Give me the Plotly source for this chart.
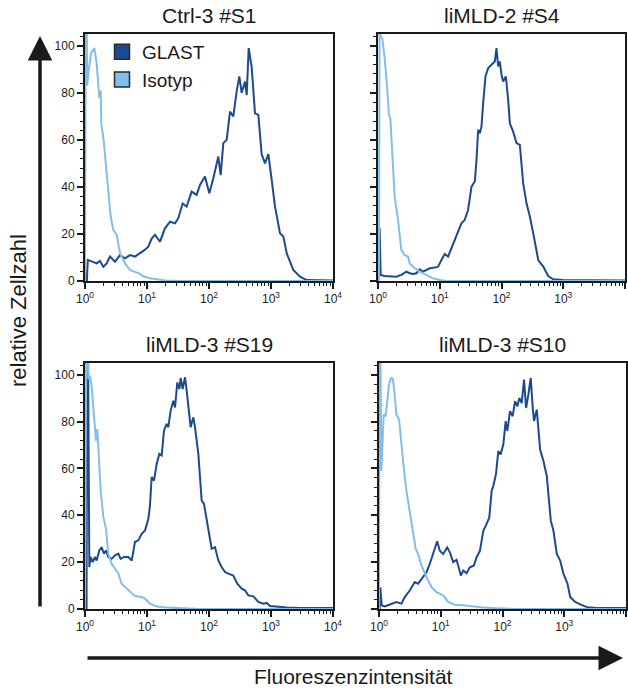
import numpy as np
import plotly.graph_objects as go

# ---------------- data (log10 of fluorescence intensity, relative cell count) ----------------
titles = ["Ctrl-3 #S1", "liMLD-2 #S4", "liMLD-3 #S19", "liMLD-3 #S10"]
series_names = ["GLAST", "Isotyp"]

s1_glast_log = [0.0, 0.03, 0.045, 0.134, 0.188, 0.242, 0.296, 0.349, 0.403, 0.484, 0.565, 0.645, 0.726, 0.806,
                0.887, 0.952, 1.022, 1.075, 1.129, 1.21, 1.29, 1.371, 1.452, 1.505, 1.575, 1.64, 1.72, 1.80,
                1.855, 1.935, 2.005, 2.07, 2.15, 2.188, 2.231, 2.285, 2.339, 2.392, 2.446, 2.489, 2.527,
                2.581, 2.608, 2.64, 2.688, 2.742, 2.796, 2.849, 2.903, 2.957, 3.011, 3.065, 3.145, 3.199,
                3.253, 3.36, 3.468, 3.575, 4.0]
s1_glast_y = [0, 0, 9, 8.2, 7.5, 8.5, 6, 7.5, 10.4, 8.2, 11, 9.6, 11, 10.4,
              11.8, 13, 14.6, 18, 19.6, 16.7, 22.4, 25.2, 24.5, 26.7, 33, 31.6, 38, 36.6,
              40.8, 44.4, 37.3, 43.7, 52.9, 45, 58.6, 60, 72, 70, 80.6, 87, 80,
              84.8, 79, 99, 91, 71.3, 70.6, 54, 50, 54, 43, 31.6, 20.3, 18.9,
              11.8, 4.7, 1.8, 0.4, 0.2]
s1_iso_log = [0.0, 0.015, 0.035, 0.06, 0.1, 0.151, 0.188, 0.215, 0.231, 0.253, 0.263, 0.30, 0.339, 0.376,
              0.414, 0.457, 0.511, 0.565, 0.645, 0.726, 0.806, 0.887, 0.94, 1.048, 1.21, 1.3, 1.5, 4.0]
s1_iso_y = [0, 150, 83, 90, 97, 99, 92.6, 85, 77.7, 81, 67, 60, 48.6, 37.3,
            27.4, 21.7, 19.6, 11.8, 7.5, 4.7, 4, 3, 2, 1.2, 0.5, 0.2, 0, 0]

s4_glast_log = [0.0, 0.016, 0.027, 0.043, 0.108, 0.216, 0.297, 0.378, 0.459, 0.514, 0.568, 0.622, 0.676,
                0.73, 0.784, 0.838, 0.919, 0.973, 1.027, 1.081, 1.135, 1.189, 1.243, 1.297, 1.351, 1.405,
                1.459, 1.514, 1.568, 1.595, 1.622, 1.649, 1.676, 1.703, 1.741, 1.784, 1.838, 1.892, 1.919,
                1.946, 1.973, 2.0, 2.027, 2.07, 2.108, 2.135, 2.189, 2.243, 2.297, 2.351, 2.405, 2.459,
                2.524, 2.595, 2.676, 2.757, 2.838, 3.0, 4.0]
s4_glast_y = [0, 0, 22.4, 2.6, 2.1, 1.8, 1.8, 2.6, 4, 3.3, 3, 3.3, 5,
              4, 4.7, 5.4, 5.7, 6.1, 8.9, 11.5, 10.4, 13.9, 17.4, 20.3, 24.5, 26,
              30.2, 40.1, 42.3, 51.5, 64.3, 62.8, 65.7, 75.6, 87, 90.5, 91.9, 93.3, 99,
              91.2, 93.3, 87.7, 84.8, 87, 77, 67, 63.5, 58.6, 57.9, 41.6, 33, 27.4,
              18.9, 8.9, 6.1, 2.1, 0.7, 0.4, 0.2]
s4_iso_log = [0.0, 0.016, 0.027, 0.043, 0.07, 0.108, 0.146, 0.178, 0.2, 0.232, 0.27, 0.324, 0.378, 0.432,
              0.486, 0.514, 0.595, 0.676, 0.784, 0.892, 1.0, 1.108, 4.0]
s4_iso_y = [0, 0, 130, 104, 103, 94.8, 82.7, 70.6, 69.2, 51.5, 35.9, 26, 13.2, 11,
            10.4, 7.5, 5.4, 4, 2.6, 1.1, 0.4, 0, 0]

s19_glast_log = [0.0, 0.025, 0.04, 0.07, 0.091, 0.124, 0.161, 0.188, 0.231, 0.269, 0.306, 0.339, 0.376, 0.43,
                 0.484, 0.538, 0.575, 0.629, 0.699, 0.753, 0.806, 0.86, 0.914, 0.968, 1.022, 1.048, 1.075,
                 1.113, 1.156, 1.199, 1.237, 1.274, 1.317, 1.344, 1.382, 1.425, 1.452, 1.489, 1.522, 1.543,
                 1.575, 1.613, 1.64, 1.667, 1.704, 1.747, 1.774, 1.828, 1.882, 1.919, 1.962, 2.005, 2.043,
                 2.097, 2.151, 2.204, 2.258, 2.312, 2.392, 2.457, 2.527, 2.581, 2.634, 2.715, 2.796, 2.876,
                 2.93, 2.984, 3.091, 3.253, 3.468, 4.0]
s19_glast_y = [0, 0, 150, 17.9, 22.2, 20, 22.2, 20.7, 25, 26.4, 23.6, 25, 22.2, 21.4,
               22.9, 23.6, 21.4, 22.2, 22.2, 20.7, 28.6, 29.3, 32.1, 33.5, 38.5, 44.2, 56.3,
               54.8, 61.9, 66.2, 65.5, 76.1, 79, 77.6, 84.7, 88.9, 86, 96.7, 93.9, 98.6,
               93.9, 98.9, 93.2, 87.5, 77.6, 81.8, 77.6, 66.2, 46.3, 44.9, 37.8, 32.1, 25.7,
               26.4, 20.7, 17.9, 15.8, 15.1, 14.3, 10.8, 8.7, 8, 5.8, 5.4, 3, 2.3,
               2.6, 1.3, 0.9, 0.6, 0.4, 0.4]
s19_iso_log = [0.0, 0.027, 0.054, 0.081, 0.108, 0.145, 0.177, 0.199, 0.226, 0.253, 0.296, 0.339, 0.376, 0.43,
               0.484, 0.538, 0.591, 0.645, 0.726, 0.806, 0.914, 0.968, 1.048, 1.156, 1.317, 1.586, 1.855, 4.0]
s19_iso_y = [0, 150, 98.2, 99.6, 94.6, 83.2, 71.9, 76.8, 61.9, 50.6, 39.2, 34.2, 23.6, 19.3,
             17.2, 15.1, 10.8, 9.4, 7.2, 5.5, 5.1, 4.4, 2.3, 1.1, 0.6, 0.3, 0, 0]

s10_glast_log = [0.0, 0.011, 0.022, 0.043, 0.092, 0.173, 0.281, 0.363, 0.417, 0.498, 0.579, 0.633, 0.687,
                 0.769, 0.823, 0.877, 0.942, 0.985, 1.039, 1.104, 1.148, 1.202, 1.256, 1.326, 1.364, 1.418,
                 1.472, 1.537, 1.581, 1.635, 1.689, 1.743, 1.786, 1.824, 1.851, 1.894, 1.932, 1.97, 2.014,
                 2.051, 2.078, 2.122, 2.165, 2.203, 2.241, 2.273, 2.311, 2.349, 2.382, 2.419, 2.457, 2.49,
                 2.511, 2.555, 2.609, 2.663, 2.717, 2.782, 2.825, 2.879, 2.934, 2.988, 3.053, 3.096, 3.177,
                 3.258, 3.367, 3.529, 4.0]
s10_glast_y = [0, 0, 9.3, 1.6, 1.1, 1.8, 3, 2.3, 5.1, 7.9, 11.5, 10.8, 12.9,
               15.7, 19.3, 23.5, 28.9, 24.9, 23.5, 26.3, 24.2, 20, 21, 14.3, 16.4, 15.3,
               17.8, 18.6, 22.1, 24.9, 33.4, 36.3, 39.1, 50.4, 52.5, 57.5, 67.4, 66, 70.3,
               80.2, 76, 84.4, 82.3, 88.7, 86.5, 90.1, 87.9, 97.9, 85.8, 91.5, 98.6, 85.8,
               80.2, 85.1, 68.1, 63.2, 56.8, 37.7, 33.4, 23.5, 20.7, 15, 10.8, 5.1, 3,
               2, 0.8, 0.4, 0.4]
s10_iso_log = [0.0, 0.011, 0.038, 0.076, 0.108, 0.13, 0.162, 0.2, 0.227, 0.254, 0.281, 0.325, 0.363, 0.401,
               0.444, 0.498, 0.541, 0.595, 0.633, 0.687, 0.769, 0.85, 0.931, 1.039, 1.12, 1.229, 1.364,
               1.526, 1.689, 1.905, 2.176, 4.0]
s10_iso_y = [0, 150, 58.9, 83, 82.3, 87.2, 95.8, 98.9, 97.9, 91.5, 83, 80.9, 68.8, 60.3,
             50.4, 41.9, 34.8, 25.6, 23.5, 18.6, 13.6, 9.3, 7.2, 5.8, 3, 1.8, 1.6,
             1.1, 0.6, 0.3, 0, 0]

panels = [
    (s1_glast_log, s1_glast_y, s1_iso_log, s1_iso_y),
    (s4_glast_log, s4_glast_y, s4_iso_log, s4_iso_y),
    (s19_glast_log, s19_glast_y, s19_iso_log, s19_iso_y),
    (s10_glast_log, s10_glast_y, s10_iso_log, s10_iso_y),
]

x_tickvals = [1, 10, 100, 1000, 10000]
x_ticktext = ["10<sup>0</sup>", "10<sup>1</sup>", "10<sup>2</sup>", "10<sup>3</sup>", "10<sup>4</sup>"]
y_tickvals = [0, 20, 40, 60, 80, 100]

# ---------------- styling ----------------
W, H = 628, 688
DARK = "#1d4a8e"
LIGHT = "#84bde9"
INK = "#1a1a1a"
FONT = "Liberation Sans, Arial, sans-serif"

# panel pixel boxes (left, right, top, bottom)
boxes = [(85, 333, 34, 281), (378, 625, 34, 281), (85, 333, 363, 609), (379, 626, 363, 609)]

fig = go.Figure()
layout = dict(
    width=W, height=H, margin=dict(l=0, r=0, t=0, b=0, autoexpand=False),
    paper_bgcolor="white", plot_bgcolor="white",
    font=dict(family=FONT, color=INK),
    showlegend=True,
    legend=dict(x=102 / W, y=1 - 33 / H, xanchor="left", yanchor="top",
                font=dict(size=19, family=FONT, color=INK),
                bgcolor="rgba(0,0,0,0)", tracegroupgap=0, itemwidth=30),
)

minor_x = [k * 10 ** d for d in range(4) for k in range(2, 10)]
annotations = []
for i, (gl, gy, il, iy) in enumerate(panels):
    ax_id = "" if i == 0 else str(i + 1)
    l, r, t, b = boxes[i]
    xa = dict(
        domain=[l / W, r / W], type="log", range=[0, 4], automargin=False,
        showline=True, linewidth=2, linecolor=INK, mirror=True,
        ticks="outside", ticklen=6, tickwidth=1.5, tickcolor=INK,
        tickvals=x_tickvals, ticktext=x_ticktext,
        tickfont=dict(size=12, family=FONT, color=INK),
        showgrid=False, zeroline=False, anchor="y" + ax_id,
        minor=dict(ticks="outside", ticklen=3, tickwidth=1, tickcolor=INK, tickvals=minor_x, showgrid=False),
    )
    ya = dict(
        domain=[1 - b / H, 1 - t / H], range=[0, 105], automargin=False,
        showline=True, linewidth=2, linecolor=INK, mirror=True,
        ticks="outside", ticklen=6, tickwidth=1.5, tickcolor=INK,
        tickvals=y_tickvals, showticklabels=(i % 2 == 0),
        tickfont=dict(size=12, family=FONT, color=INK),
        showgrid=False, zeroline=False, anchor="x" + ax_id,
        minor=dict(ticks="outside", ticklen=3, tickwidth=1, tickcolor=INK, dtick=4, showgrid=False),
    )
    layout["xaxis" + ax_id] = xa
    layout["yaxis" + ax_id] = ya

    fig.add_trace(go.Scatter(x=10 ** np.array(gl), y=gy, mode="lines",
                             line=dict(color=DARK, width=2), showlegend=False,
                             xaxis="x" + ax_id, yaxis="y" + ax_id))
    fig.add_trace(go.Scatter(x=10 ** np.array(il), y=iy, mode="lines",
                             line=dict(color=LIGHT, width=2), showlegend=False,
                             xaxis="x" + ax_id, yaxis="y" + ax_id))

    annotations.append(dict(text=titles[i], xref="paper", yref="paper",
                            x=(l + r) / 2 / W, y=1 - (t - 5) / H, xanchor="center", yanchor="bottom",
                            showarrow=False, font=dict(size=21, family=FONT, color=INK)))

# legend entries (square swatches)
for name, col in zip(series_names, [DARK, LIGHT]):
    fig.add_trace(go.Scatter(x=[None], y=[None], mode="markers", name=name,
                             marker=dict(symbol="square", size=15, color=col,
                                         line=dict(color="#2a2a2a", width=1.5))))

# axis arrows and labels
annotations.append(dict(x=40 / W, y=1 - 36 / H, xref="paper", yref="paper", text="",
                        showarrow=True, ax=0, ay=572, arrowhead=2, arrowsize=1.4,
                        arrowwidth=3.5, arrowcolor=INK))
annotations.append(dict(x=623 / W, y=1 - 658 / H, xref="paper", yref="paper", text="",
                        showarrow=True, ax=-537, ay=0, arrowhead=2, arrowsize=1.4,
                        arrowwidth=3.5, arrowcolor=INK))
annotations.append(dict(text="relative Zellzahl", x=18 / W, y=1 - 311 / H, xref="paper", yref="paper",
                        textangle=-90, showarrow=False, xanchor="center", yanchor="middle",
                        font=dict(size=22, family=FONT, color=INK)))
annotations.append(dict(text="Fluoreszenzintensität", x=353 / W, y=1 - 676 / H, xref="paper", yref="paper",
                        showarrow=False, xanchor="center", yanchor="middle",
                        font=dict(size=21, family=FONT, color=INK)))

layout["annotations"] = annotations
fig.update_layout(**layout)
fig.write_html("out.html", config={"displayModeBar": False},
               post_script="document.body.style.margin='0';document.body.style.overflow='hidden';")
